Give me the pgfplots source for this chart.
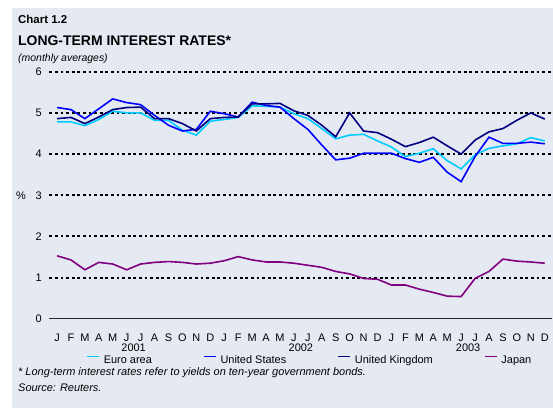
\documentclass[border=0pt]{standalone}
\usepackage{fontspec}
\setmainfont{Liberation Sans}
\usepackage{pgfplots}
\usepackage{pgfplotstable}
\pgfplotsset{compat=1.18}
\pgfdeclarelayer{bg}
\pgfsetlayers{bg,main}
\definecolor{bgc}{RGB}{229,234,242}
\definecolor{euro}{RGB}{0,204,255}
\definecolor{usc}{RGB}{0,0,255}
\definecolor{ukc}{RGB}{0,0,128}
\definecolor{jpc}{RGB}{128,0,128}
\pgfplotstableread{
i ea us uk jp
0 4.78 5.13 4.86 1.53
1 4.78 5.08 4.89 1.43
2 4.69 4.86 4.74 1.19
3 4.84 5.10 4.90 1.37
4 5.04 5.34 5.08 1.33
5 5.00 5.25 5.13 1.19
6 5.00 5.20 5.14 1.33
7 4.82 4.94 4.86 1.37
8 4.82 4.70 4.86 1.39
9 4.58 4.56 4.74 1.37
10 4.46 4.60 4.56 1.33
11 4.80 5.04 4.86 1.35
12 4.84 4.98 4.89 1.41
13 4.89 4.90 4.90 1.51
14 5.17 5.26 5.22 1.43
15 5.16 5.18 5.22 1.38
16 5.14 5.14 5.23 1.38
17 4.98 4.86 5.05 1.35
18 4.86 4.60 4.94 1.30
19 4.62 4.22 4.70 1.25
20 4.37 3.86 4.42 1.15
21 4.46 3.90 5.00 1.09
22 4.48 4.02 4.56 0.98
23 4.32 4.02 4.52 0.96
24 4.17 4.02 4.36 0.82
25 3.94 3.89 4.18 0.82
26 4.02 3.80 4.28 0.72
27 4.13 3.92 4.41 0.64
28 3.84 3.56 4.20 0.55
29 3.64 3.33 4.00 0.54
30 3.98 3.94 4.34 0.98
31 4.14 4.41 4.54 1.15
32 4.20 4.26 4.62 1.45
33 4.25 4.26 4.82 1.40
34 4.40 4.29 5.00 1.38
35 4.32 4.25 4.85 1.35
}\ratedata
\begin{document}
\begin{tikzpicture}[x=1bp,y=1bp]
\begin{axis}[
  scale only axis, width=502.5bp, height=247.1bp,
  xmin=-0.54, xmax=35.52, ymin=0, ymax=6,
  clip=false,
  axis line style={draw=none},
  major tick length=0pt,
  ytick={1,2,3,4,5,6},
  extra y ticks={0},
  extra y tick style={grid style={solid, black!85, line width=0.9bp}},
  ymajorgrids,
  grid style={black, line width=2bp, line cap=butt, dash pattern=on 2.7bp off 2.9bp},
  xtick={0,...,35},
  xticklabels={J,F,M,A,M,J,J,A,S,O,N,D,J,F,M,A,M,J,J,A,S,O,N,D,J,F,M,A,M,J,J,A,S,O,N,D},
  tick label style={font=\fontsize{11}{13}\selectfont},
  /pgf/number format/assume math mode=true,
  xticklabel style={anchor=base, inner sep=0pt, yshift=-23bp},
  yticklabel style={anchor=east, inner sep=0pt, xshift=-7.5bp},
  no markers,
  legend columns=4,
  legend image code/.code={\draw[#1, line width=1.6bp] (0bp,4bp) -- (12bp,4bp);},
  legend style={at={(axis description cs:0,0)}, anchor=west, xshift=36.5bp, yshift=-41.5bp,
    draw=none, fill=none, inner sep=0pt,
    nodes={inner sep=0pt, font=\fontsize{11}{13}\selectfont},
    /tikz/every odd column/.append style={column sep=4bp},
    /tikz/every even column/.append style={column sep=51bp}},
]
\addplot[euro, line width=1.6bp] table[x=i,y=ea]{\ratedata};
\addlegendentry{Euro area}
\addplot[usc, line width=1.6bp] table[x=i,y=us]{\ratedata};
\addlegendentry{United States}
\addplot[ukc, line width=1.6bp] table[x=i,y=uk]{\ratedata};
\addlegendentry{United Kingdom}
\addplot[jpc, line width=1.6bp] table[x=i,y=jp]{\ratedata};
\addlegendentry{Japan}
\node[anchor=base, inner sep=0pt, font=\fontsize{11}{13}\selectfont, yshift=-32.5bp] at (axis cs:5.5,0) {2001};
\node[anchor=base, inner sep=0pt, font=\fontsize{11}{13}\selectfont, yshift=-32.5bp] at (axis cs:17.5,0) {2002};
\node[anchor=base, inner sep=0pt, font=\fontsize{11}{13}\selectfont, yshift=-32.5bp] at (axis cs:29.5,0) {2003};
\coordinate (O) at (axis cs:0,0);
\end{axis}
\begin{scope}[shift={(O)}, xshift=-57bp, yshift=-89.2bp]
\begin{pgfonlayer}{bg}
\fill[white] (0,0) rectangle (553,408);
\fill[bgc] (12,0) rectangle (553,400);
\end{pgfonlayer}
\coordinate (BL) at (0,0);
\coordinate (TR) at (553,408);
\node[anchor=base west,inner sep=0pt,font=\bfseries\fontsize{11.5}{13}\selectfont] at (18,385) {Chart 1.2};
\node[anchor=base west,inner sep=0pt,font=\bfseries\fontsize{14}{16}\selectfont] at (18,363) {LONG-TERM INTEREST RATES*};
\node[anchor=base west,inner sep=0pt,font=\itshape\fontsize{10.5}{12}\selectfont] at (18,347) {(monthly averages)};
\node[anchor=base west,inner sep=0pt,font=\itshape\fontsize{11}{13}\selectfont] at (18,33) {* Long-term interest rates refer to yields on ten-year government bonds.};
\node[anchor=base west,inner sep=0pt,font=\itshape\fontsize{11}{13}\selectfont] at (18,17) {Source: Reuters.};
\node[anchor=west,inner sep=0pt,font=\fontsize{11}{13}\selectfont] at (16,212.7) {\%};
\end{scope}
\pgfresetboundingbox
\useasboundingbox (BL) rectangle (TR);
\end{tikzpicture}
\end{document}
